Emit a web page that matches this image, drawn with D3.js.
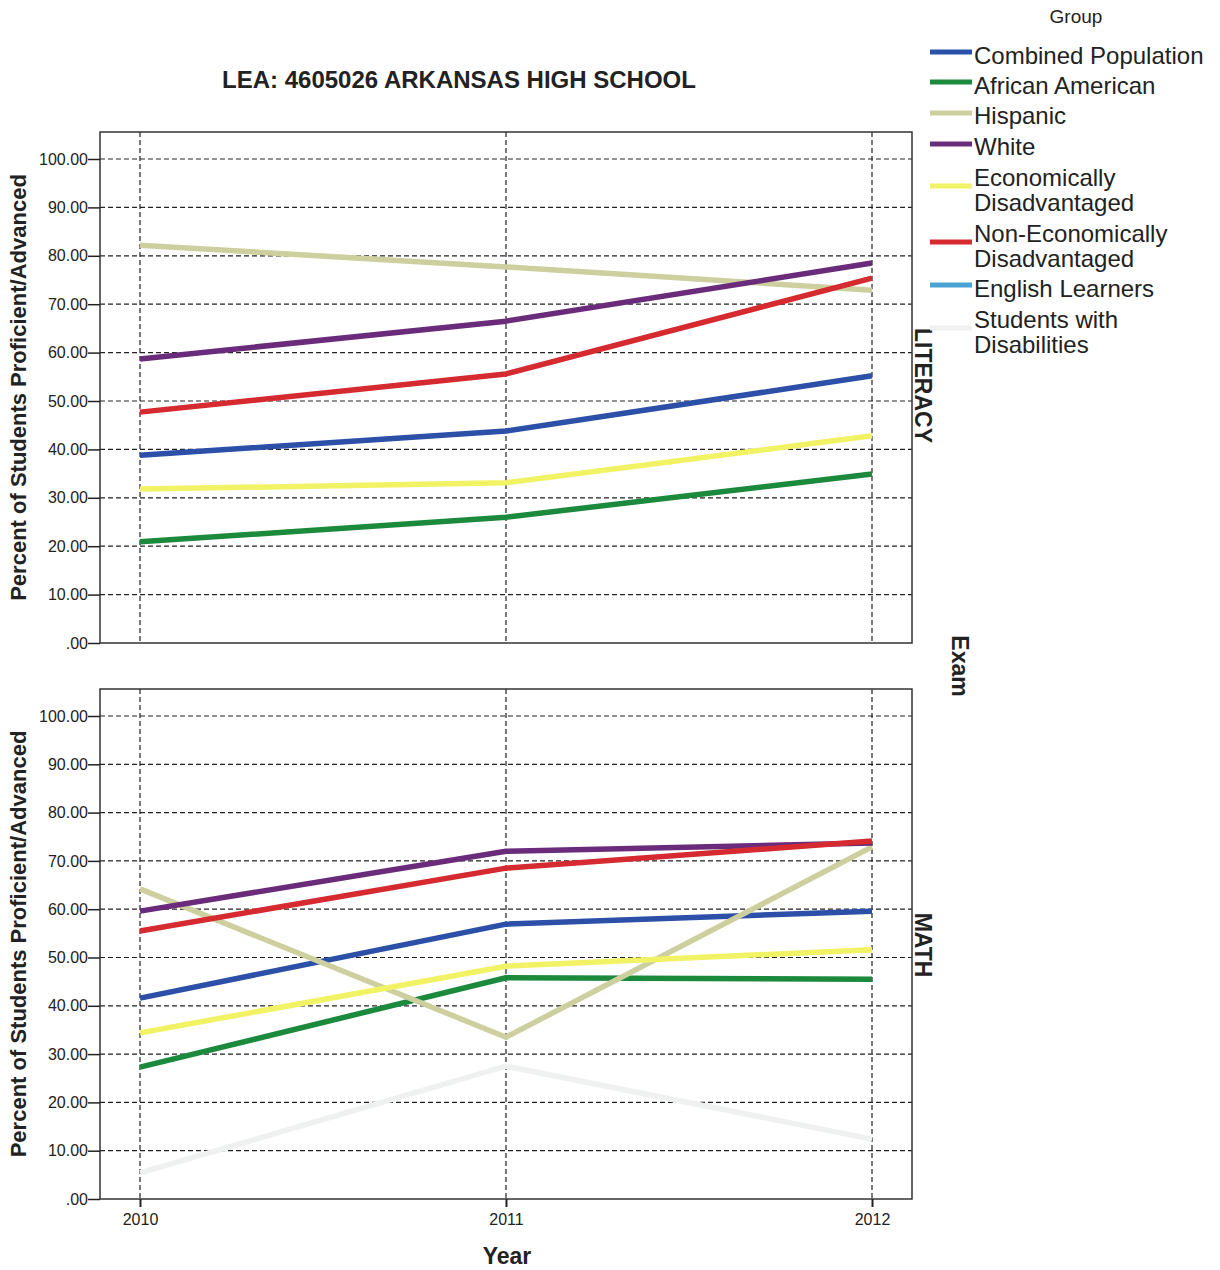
<!DOCTYPE html>
<html><head><meta charset="utf-8">
<script src="https://cdn.jsdelivr.net/npm/d3@7"></script>
<style>body{margin:0;background:#fff;font-family:"Liberation Sans",Arial,sans-serif;}</style>
</head><body>
<svg id="c" width="1220" height="1270"></svg>
<script>
const years = [2010, 2011, 2012];
const groups = ["Combined Population","African American","Hispanic","White","Economically Disadvantaged","Non-Economically Disadvantaged","English Learners","Students with Disabilities"];
const groupLabels = [["Combined Population"],["African American"],["Hispanic"],["White"],["Economically","Disadvantaged"],["Non-Economically","Disadvantaged"],["English Learners"],["Students with","Disabilities"]];
const colors = ["#2c50a8","#1c8a3c","#cdd09e","#6a2c7a","#f2f265","#d52a30","#4aa3d2","#eef1f0"];
const exams = ["LITERACY","MATH"];
const yTicks = [0,10,20,30,40,50,60,70,80,90,100];
// literacy values per group (null = not reported)
const literacy = [
  [38.8, 43.8, 55.2],
  [20.9, 26.0, 34.9],
  [82.2, 77.7, 72.9],
  [58.7, 66.5, 78.5],
  [31.8, 33.1, 42.8],
  [47.7, 55.6, 75.4],
  null,
  null
];
const math = [
  [41.6, 56.9, 59.6],
  [27.3, 45.8, 45.5],
  [64.2, 33.5, 72.9],
  [59.6, 72.0, 73.7],
  [34.4, 48.2, 51.6],
  [55.5, 68.5, 74.1],
  null,
  [5.4, 27.5, 12.4]
];
const panelData = [literacy, math];

const svg = d3.select("#c");
const font = '"Liberation Sans",Arial,sans-serif';
const x = d3.scalePoint().domain(years).range([140, 872]);
const panels = [{top:132, bottom:643, y100:159}, {top:689, bottom:1199, y100:716}];
const left = 100, right = 912;

svg.append("text").attr("x",459).attr("y",88).attr("text-anchor","middle")
  .attr("font-family",font).attr("font-weight","bold").attr("font-size",24).attr("fill","#222")
  .text("LEA: 4605026 ARKANSAS HIGH SCHOOL");

panels.forEach((p, i) => {
  const y = d3.scaleLinear().domain([0,100]).range([p.bottom, p.y100]);
  const g = svg.append("g");
  g.selectAll("line.hg").data(yTicks.filter(t=>t>0)).join("line")
    .attr("x1",left).attr("x2",right).attr("y1",d=>y(d)).attr("y2",d=>y(d))
    .attr("stroke","#222").attr("stroke-width",1.2).attr("stroke-dasharray","5,3");
  g.selectAll("line.vg").data(years).join("line")
    .attr("x1",d=>x(d)).attr("x2",d=>x(d)).attr("y1",p.top).attr("y2",p.bottom)
    .attr("stroke","#222").attr("stroke-width",1.2).attr("stroke-dasharray","5,3");
  const line = d3.line().x((d,j)=>x(years[j])).y(d=>y(d));
  panelData[i].forEach((vals, k) => {
    if (!vals) return;
    g.append("path").attr("d", line(vals)).attr("fill","none")
      .attr("stroke", colors[k]).attr("stroke-width",5.5).attr("stroke-linejoin","round");
  });
  g.append("rect").attr("x",left).attr("y",p.top).attr("width",right-left).attr("height",p.bottom-p.top)
    .attr("fill","none").attr("stroke","#333").attr("stroke-width",1.5);
  const ax = g.append("g").attr("transform",`translate(${left},0)`)
    .call(d3.axisLeft(y).tickValues(yTicks).tickSize(12).tickFormat(d => d===0 ? ".00" : d3.format(".2f")(d)));
  ax.select(".domain").remove();
  ax.selectAll(".tick line").attr("stroke","#222").attr("stroke-width",1.5);
  ax.selectAll("text").attr("font-family",font).attr("font-size",16).attr("fill","#222").attr("x",-12);
  svg.append("text").attr("transform",`translate(26,${(p.top+p.bottom)/2}) rotate(-90)`)
    .attr("text-anchor","middle").attr("font-family",font).attr("font-weight","bold")
    .attr("font-size",22).attr("fill","#222").text("Percent of Students Proficient/Advanced");
  svg.append("text").attr("transform",`translate(915,${(p.top+p.bottom)/2 + (i===0?-2:1)}) rotate(90)`)
    .attr("text-anchor","middle").attr("font-family",font).attr("font-weight","bold")
    .attr("font-size",23).attr("fill","#222").text(exams[i]);
});

const xa = svg.append("g").attr("transform",`translate(0,${panels[1].bottom})`)
  .call(d3.axisBottom(x).tickSize(8).tickPadding(7));
xa.select(".domain").remove();
xa.selectAll(".tick line").attr("stroke","#222").attr("stroke-width",2);
xa.selectAll("text").attr("font-family",font).attr("font-size",16).attr("fill","#222");
svg.append("text").attr("x",507).attr("y",1264).attr("text-anchor","middle")
  .attr("font-family",font).attr("font-weight","bold").attr("font-size",23).attr("fill","#222").text("Year");

svg.append("text").attr("transform",`translate(952,666) rotate(90)`)
  .attr("text-anchor","middle").attr("font-family",font).attr("font-weight","bold")
  .attr("font-size",23).attr("fill","#222").text("Exam");

svg.append("text").attr("x",1076).attr("y",23).attr("text-anchor","middle")
  .attr("font-family",font).attr("font-size",19).attr("fill","#222").text("Group");
const rowY = [56, 86, 116, 147, 178, 234, 289, 320];
const swY = [52, 82, 113, 144, 186, 242, 285, 328];
groups.forEach((gname, k) => {
  svg.append("line").attr("x1",930).attr("x2",972).attr("y1",swY[k]).attr("y2",swY[k])
    .attr("stroke",colors[k]).attr("stroke-width",5);
  const t = svg.append("text").attr("x",974).attr("y",rowY[k]+8)
    .attr("font-family",font).attr("font-size",24).attr("fill","#222");
  groupLabels[k].forEach((ln, j) => {
    t.append("tspan").attr("x",974).attr("dy", j===0?0:25).text(ln);
  });
});
</script>
</body></html>
